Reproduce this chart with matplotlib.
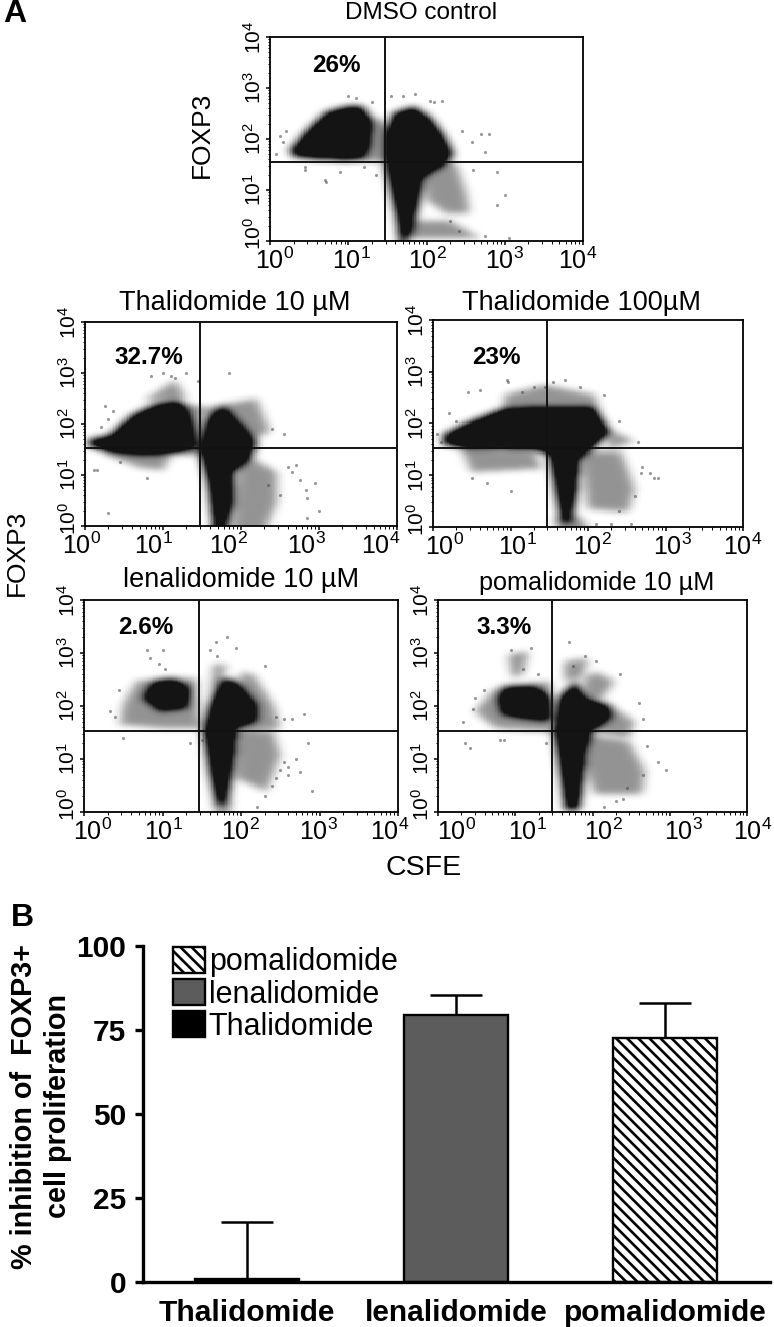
import numpy as np
import matplotlib
matplotlib.use("Agg")
import matplotlib.pyplot as plt
from matplotlib.colors import LinearSegmentedColormap
from matplotlib.patches import Patch
from matplotlib.path import Path
from matplotlib.ticker import LogLocator, NullFormatter
from matplotlib.transforms import ScaledTranslation

plt.rcParams['font.family'] = ['Liberation Sans', 'DejaVu Sans']
plt.rcParams['mathtext.fontset'] = 'custom'
plt.rcParams['mathtext.rm'] = 'Liberation Sans'
plt.rcParams['mathtext.default'] = 'regular'
plt.rcParams['hatch.linewidth'] = 1.9

W, H = 774, 1327

# flow panels: gate lines and outlines of the populations, in decades (log10)
dmso_gate = (1.47, 1.54)
dmso_dense = [
    [(.26,1.78),(.47,2.17),(.72,2.53),(.98,2.63),(1.19,2.63),(1.3,2.35),(1.28,1.9),(1.2,1.6),(.98,1.58),(.55,1.61),(.3,1.65)],
    [(1.57,2.5),(1.83,2.63),(2.04,2.43),(2.21,2.1),(2.34,1.71),(2.26,1.52),(1.96,1.26),(1.89,.67),(1.8,.14),(1.74,0),(1.66,0),(1.62,.47),(1.53,1.07),(1.47,1.52),(1.49,2.12)],
]
dmso_light = [
    [(1.15,2.6),(1.36,2.4),(1.5,2.3),(1.5,1.55),(1.15,1.55)],
    [(1.96,1.52),(2.38,1.52),(2.51,.93),(2.55,.54),(2.26,.54),(2.0,.8)],
    [(1.75,.4),(2.3,.4),(2.7,.05),(1.8,.05)],
]
dmso_sx = [.08,.13,.2,.16,.45,.72,.9,1.1,1.0,1.3,1.35,1.55,1.7,1.85,2.1,2.2,2.45,2.7,2.8,2.58,2.75,2.6,2.9,3.0,3.05,2.3,2.42,2.75,.45,.7,1.2,2.05,2.9]
dmso_sy = [1.7,2.05,2.15,1.95,1.4,1.15,1.35,2.8,2.85,2.72,1.3,2.85,2.85,2.88,2.72,2.75,2.15,2.1,2.1,1.95,1.75,1.4,1.35,.9,.05,.4,.2,.1,1.45,1.2,1.45,2.75,.7]

thal10_gate = (1.47, 1.53)
thal10_dense = [
    [(.04,1.68),(.32,1.78),(.62,2.2),(.92,2.4),(1.18,2.46),(1.3,2.35),(1.38,2.0),(1.42,1.55),(1.13,1.42),(.75,1.39),(.32,1.45),(.04,1.58)],
    [(1.56,2.1),(1.77,2.37),(1.94,2.1),(2.2,1.65),(2.12,1.32),(1.9,1.06),(1.9,.47),(1.82,0),(1.65,0),(1.58,.8),(1.47,1.45)],
]
thal10_light = [
    [(1.25,2.4),(1.5,2.35),(1.5,1.4),(1.2,1.4)],
    [(1.47,2.3),(2.2,2.5),(2.37,1.85),(2.0,1.6)],
    [(1.99,1.45),(2.46,1.06),(2.46,.47),(2.33,0),(1.9,0)],
    [(.75,2.45),(1.15,2.85),(1.3,2.5)],
    [(.2,1.45),(1.1,1.4),(1.0,1.1),(.7,1.15)],
]
thal10_sx = [.12,.15,.25,.2,.36,.3,.45,.8,.85,1.0,1.1,1.15,1.3,1.45,1.85,2.4,2.55,2.6,2.65,2.7,2.75,2.35,2.5,2.95,2.85,2.85,3.0,2.83,.3]
thal10_sy = [1.1,1.1,2.35,1.95,2.25,2.1,1.25,.95,2.95,3.0,2.95,2.9,3.0,2.85,3.0,1.9,1.8,1.15,1.05,1.2,.9,.8,.6,.85,.55,.15,.3,.7,.25]

thal100_gate = (1.47, 1.53)
thal100_dense = [
    [(.12,1.6),(.15,1.8),(.45,2.02),(.92,2.3),(1.44,2.32),(2.09,2.32),(2.28,1.84),(2.09,1.56),(1.89,1.32),(1.85,.68),(1.78,.08),(1.66,.08),(1.57,.81),(1.5,1.39),(1.31,1.5),(.37,1.53)],
]
thal100_light = [
    [(.92,2.55),(1.44,2.74),(2.09,2.55),(2.13,2.29),(.92,2.26)],
    [(.37,1.52),(1.31,1.45),(1.4,1.13),(.5,1.06)],
    [(1.91,1.45),(2.43,1.45),(2.6,.74),(2.52,.29),(2.0,.35)],
    [(2.26,1.9),(2.6,1.65),(2.26,1.52)],
    [(1.57,.2),(1.9,.2),(2.0,0),(1.6,0)],
]
thal100_sx = [.05,.1,.2,.3,.45,.6,.95,.97,1.15,1.3,1.45,1.55,1.7,1.9,2.2,2.4,2.65,2.7,2.68,2.8,2.9,2.6,2.4,.5,.7,1.0,2.85,2.1,2.3,2.55]
thal100_sy = [1.8,1.65,2.2,2.05,2.6,2.65,2.85,2.8,2.6,2.7,2.7,2.8,2.85,2.7,2.55,2.05,1.65,1.15,1.05,1.05,.95,.6,.3,.95,.85,.7,.95,.05,.05,.05]

len_gate = (1.465, 1.53)
len_dense = [
    [(.75,2.15),(.88,2.47),(1.14,2.53),(1.35,2.34),(1.31,1.96),(.97,1.9)],
    [(1.6,2.03),(1.77,2.53),(1.94,2.47),(2.2,2.03),(2.2,1.71),(1.94,1.58),(1.9,.89),(1.82,.14),(1.69,.14),(1.6,.77),(1.52,1.52)],
]
len_light = [
    [(.5,2.03),(.67,2.47),(1.43,2.53),(1.48,1.58),(1.01,1.58),(.46,1.65)],
    [(1.99,2.65),(2.16,2.59),(2.41,2.03),(2.5,1.58),(1.99,1.52)],
    [(1.94,1.52),(2.41,1.52),(2.5,1.08),(2.33,.39),(1.94,.64)],
    [(1.65,2.78),(1.82,2.78),(1.75,2.53),(1.6,2.15)],
    [(1.65,.2),(1.88,.2),(1.85,0),(1.68,0)],
]
len_sx = [.33,.4,.45,.8,.84,.95,1.0,1.03,1.6,1.68,1.7,1.82,1.93,2.3,2.45,2.55,2.65,2.8,2.85,2.7,2.5,2.6,2.9,2.75,2.55,2.4,2.3,2.2,1.35,.5,2.45,2.6,1.5]
len_sy = [1.9,1.8,2.3,3.05,2.9,2.8,3.05,2.7,3.05,3.2,2.95,3.3,3.1,2.75,1.8,1.75,1.75,1.85,1.3,1.0,.8,.85,.4,.75,.95,.5,.3,.1,1.3,1.4,.65,.7,1.35]

pom_gate = (1.475, 1.53)
pom_dense = [
    [(.78,2.15),(.87,2.37),(1.26,2.37),(1.47,2.15),(1.47,1.71),(1.09,1.77),(.83,1.84)],
    [(1.56,2.15),(1.78,2.47),(1.91,2.15),(2.21,2.03),(2.25,1.77),(1.99,1.52),(1.91,1.14),(1.86,.39),(1.82,.04),(1.65,.04),(1.6,.58),(1.5,1.52)],
]
pom_light = [
    [(.48,1.9),(.74,2.34),(1.47,2.47),(1.47,1.52),(.74,1.58)],
    [(.91,2.97),(1.17,3.03),(1.09,2.59),(.96,2.53)],
    [(1.91,2.53),(2.03,2.65),(2.29,2.47),(2.12,2.15),(1.91,2.15)],
    [(2.21,2.03),(2.55,1.71),(2.47,1.4),(2.03,1.52)],
    [(1.95,1.46),(2.47,1.33),(2.68,.77),(2.64,.33),(2.03,.33),(1.91,.89)],
    [(1.65,2.84),(1.95,2.9),(1.86,2.53),(1.65,2.47)],
]
pom_sx = [.33,.35,.45,.6,.48,.8,.95,1.1,1.2,1.3,1.7,1.75,1.9,2.05,2.35,2.6,2.66,2.7,2.85,2.65,2.45,2.3,1.4,2.15,.85,.42,2.95,2.4]
pom_sy = [1.7,1.3,1.95,2.3,2.15,1.35,3.05,2.7,3.1,2.6,3.2,2.75,2.95,2.85,2.6,2.05,1.75,1.25,.95,.7,.45,.2,1.3,.1,1.35,1.2,.8,.25]

panel_titles = ["DMSO control", "Thalidomide 10 µM", "Thalidomide 100µM", "lenalidomide 10 µM", "pomalidomide 10 µM"]
panel_pcts = ["26%", "32.7%", "23%", "2.6%", "3.3%"]

# bar chart values
drugs = ["Thalidomide", "lenalidomide", "pomalidomide"]
inhibition = [1, 79.5, 72.5]
err_top = [17, 6, 10.5]
y_ticks = [0, 25, 50, 75, 100]
legend_labels = ["pomalidomide", "lenalidomide", "Thalidomide"]

gray_map = LinearSegmentedColormap.from_list("flow", ["white", "#b4b4b4", "#6a6a6a", "#141414", "#141414"])


def px_axes(fig, x0, y0, x1, y1):
    # y measured from top of the picture, like in an image viewer
    return fig.add_axes([x0 / W, 1 - y1 / H, (x1 - x0) / W, (y1 - y0) / H])


def blur(img, sigma=3.2):
    # gaussian by hand, edges kept so the population runs into the axis
    half = int(3 * sigma)
    k = np.exp(-0.5 * (np.arange(-half, half + 1) / sigma) ** 2)
    k /= k.sum()
    pad = np.pad(img, half, mode='edge')
    pad = np.apply_along_axis(lambda v: np.convolve(v, k, mode='same'), 0, pad)
    pad = np.apply_along_axis(lambda v: np.convolve(v, k, mode='same'), 1, pad)
    return pad[half:-half, half:-half]


def density(dense, light):
    edges = np.linspace(0, 4, 201)
    mid = (edges[:-1] + edges[1:]) / 2
    gx, gy = np.meshgrid(mid, mid)
    pts = np.column_stack([gx.ravel(), gy.ravel()])
    img = np.zeros(gx.shape)
    for poly in light:
        img[Path(poly).contains_points(pts).reshape(gx.shape)] = 0.36
    for poly in dense:
        img[Path(poly).contains_points(pts).reshape(gx.shape)] = 1.0
    return edges, blur(img)


def flow_panel(fig, box, gate, dense, light, sx, sy, title, title_xy, title_size, pct, pct_xy, xlabel_px, label_y):
    ax = px_axes(fig, *box)
    ax.set_xscale('log')
    ax.set_yscale('log')
    ax.set_xlim(1, 1e4)
    ax.set_ylim(1, 1e4)
    edges, img = density(dense, light)
    ax.pcolormesh(10 ** edges, 10 ** edges, img, cmap=gray_map, vmin=0, vmax=1, shading='flat',
                  rasterized=True, zorder=1)
    ax.scatter(10 ** np.array(sx), 10 ** np.array(sy), s=5, color='#444444', alpha=0.55, lw=0, zorder=3)
    ax.axvline(10 ** gate[0], color='#111111', lw=1.4, zorder=4)
    ax.axhline(10 ** gate[1], color='#111111', lw=1.4, zorder=4)

    major = [1, 10, 100, 1000, 10000]
    labels = [r'$10^{%d}$' % i for i in range(5)]
    ax.set_xticks(major, labels, fontsize=18)
    ax.set_yticks(major, labels, fontsize=15, rotation=90, va='center')
    ax.xaxis.set_minor_locator(LogLocator(base=10, subs=np.arange(2, 10), numticks=10))
    ax.yaxis.set_minor_locator(LogLocator(base=10, subs=np.arange(2, 10), numticks=10))
    ax.xaxis.set_minor_formatter(NullFormatter())
    ax.yaxis.set_minor_formatter(NullFormatter())
    ax.tick_params(which='major', length=3, width=1.1)
    ax.tick_params(axis='x', which='major', pad=label_y)
    ax.tick_params(axis='y', which='major', pad=1)
    ax.tick_params(which='minor', length=1.8, width=0.7)
    for s in ax.spines.values():
        s.set_linewidth(1.3)

    # tick labels in the original sit a bit inside their ticks
    x0, x1 = box[0], box[2]
    for i, lab in enumerate(ax.get_xticklabels()):
        dx = (xlabel_px[i] - (x0 + i * (x1 - x0) / 4)) / 100
        lab.set_transform(lab.get_transform() + ScaledTranslation(dx, 0, fig.dpi_scale_trans))
    first = ax.get_yticklabels()[0]
    first.set_transform(first.get_transform() + ScaledTranslation(0, 0.08, fig.dpi_scale_trans))

    fig.text(title_xy[0] / W, 1 - title_xy[1] / H, title, ha='center', va='center', fontsize=title_size)
    fig.text(pct_xy[0] / W, 1 - pct_xy[1] / H, pct, ha='center', va='center', fontsize=17.5, fontweight='bold')
    return ax


fig = plt.figure(figsize=(W / 100, H / 100), dpi=100)

flow_panel(fig, (270, 37, 583, 241), dmso_gate, dmso_dense, dmso_light, dmso_sx, dmso_sy,
           panel_titles[0], (421, 13), 17.5, panel_pcts[0], (336, 65), [275, 351, 427, 504, 578], 2)
flow_panel(fig, (85, 322, 397, 526), thal10_gate, thal10_dense, thal10_light, thal10_sx, thal10_sy,
           panel_titles[1], (235, 303), 19.5, panel_pcts[1], (149, 358), [82, 153, 228, 306, 381], 2)
flow_panel(fig, (433, 320, 743, 527), thal100_gate, thal100_dense, thal100_light, thal100_sx, thal100_sy,
           panel_titles[2], (581, 303), 19.5, panel_pcts[2], (496, 358), [445, 517, 592, 672, 743], 2)
flow_panel(fig, (84, 600, 398, 812), len_gate, len_dense, len_light, len_sx, len_sy,
           panel_titles[3], (241, 580), 19.5, panel_pcts[3], (146, 628), [93, 163, 240, 318, 390], 2)
flow_panel(fig, (438, 600, 747, 812), pom_gate, pom_dense, pom_light, pom_sx, pom_sy,
           panel_titles[4], (597, 583), 18.2, panel_pcts[4], (504, 628), [457, 527, 603, 683, 753], 2)

fig.text(202 / W, 1 - 135 / H, "FOXP3", rotation=90, ha='center', va='center', fontsize=19)
fig.text(17 / W, 1 - 553 / H, "FOXP3", rotation=90, ha='center', va='center', fontsize=19)
fig.text(424 / W, 1 - 868 / H, "CSFE", ha='center', va='center', fontsize=20.5)
fig.text(3 / W, 1 - 14 / H, "A", ha='left', va='center', fontsize=23, fontweight='bold')
fig.text(11 / W, 1 - 918 / H, "B", ha='left', va='center', fontsize=23, fontweight='bold')

# bar chart
ax = px_axes(fig, 143, 946, 770, 1282)
xpos = np.arange(len(drugs))
colors = ['black', '#5c5c5c', 'white']
hatches = [None, None, '\\\\\\']
bars = ax.bar(xpos, inhibition, width=0.5, color=colors, edgecolor='black', linewidth=1.7, zorder=2)
for b, h in zip(bars, hatches):
    if h:
        b.set_hatch(h)
ax.errorbar(xpos, inhibition, yerr=[np.zeros(3), err_top], fmt='none', ecolor='black',
            elinewidth=1.8, capsize=19, capthick=1.8, zorder=1)
ax.set_xlim(-0.498, 2.502)
ax.set_ylim(0, 100)
ax.spines['top'].set_visible(False)
ax.spines['right'].set_visible(False)
ax.spines['left'].set_linewidth(2.4)
ax.spines['bottom'].set_linewidth(2.4)
ax.set_xticks(xpos, drugs, fontsize=21.5, fontweight='bold')
ax.set_yticks(y_ticks, [str(t) for t in y_ticks], fontsize=21.5, fontweight='bold')
ax.tick_params(axis='x', length=0, pad=12)
ax.tick_params(axis='y', length=6, width=2.4, pad=6)
fig.text(24 / W, 1 - 1107 / H, "% inhibition of  FOXP3+", rotation=90, ha='center', va='center',
         fontsize=20.7, fontweight='bold')
fig.text(58 / W, 1 - 1106 / H, "cell proliferation", rotation=90, ha='center', va='center',
         fontsize=20.7, fontweight='bold')

handles = [Patch(facecolor='white', edgecolor='black', hatch='\\\\\\', lw=1.7),
           Patch(facecolor='#5c5c5c', edgecolor='black', lw=1.7),
           Patch(facecolor='black', edgecolor='black', lw=1.7)]
fig.legend(handles, legend_labels, loc='upper left', bbox_to_anchor=(173 / W, 1 - 947 / H), frameon=False,
           fontsize=22, borderpad=0, borderaxespad=0, labelspacing=0.06, handlelength=1.05,
           handleheight=0.92, handletextpad=0.12)

fig.savefig("out.png", dpi=100)
